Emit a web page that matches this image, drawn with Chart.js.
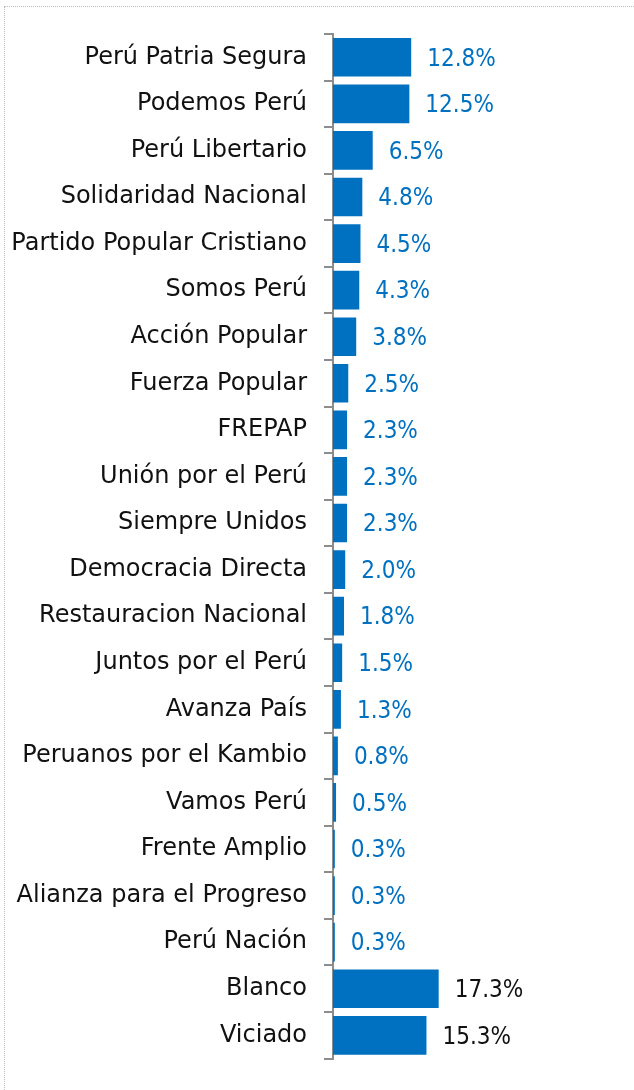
<!DOCTYPE html>
<html>
<head>
<meta charset="utf-8">
<script src="https://cdn.jsdelivr.net/npm/chart.js@4.4.1/dist/chart.umd.min.js"></script>
<style>
    html, body { margin: 0; padding: 0; background: #fff; }
    #wrap { position: relative; width: 634px; height: 1090px; overflow: hidden; }
    #frame { position: absolute; left: 4px; top: 6px; width: 700px; height: 1200px; border: 1px dotted #bbb; }
    #chart-box { position: absolute; left: 0; top: 0; width: 634px; height: 1090px; }
</style>
</head>
<body>
<div id="wrap">
    <div id="frame"></div>
    <div id="chart-box"><canvas id="bar-chart"></canvas></div>
</div>
<script>
var aParties = [
    "Perú Patria Segura", "Podemos Perú", "Perú Libertario", "Solidaridad Nacional",
    "Partido Popular Cristiano", "Somos Perú", "Acción Popular", "Fuerza Popular",
    "FREPAP", "Unión por el Perú", "Siempre Unidos", "Democracia Directa",
    "Restauracion Nacional", "Juntos por el Perú", "Avanza País", "Peruanos por el Kambio",
    "Vamos Perú", "Frente Amplio", "Alianza para el Progreso", "Perú Nación",
    "Blanco", "Viciado"
];
var aVotes = [12.8, 12.5, 6.5, 4.8, 4.5, 4.3, 3.8, 2.5, 2.3, 2.3, 2.3, 2.0, 1.8, 1.5, 1.3, 0.8, 0.5, 0.3, 0.3, 0.3, 17.3, 15.3];
var aLabelColors = aParties.map(function(name) {
    return (name === "Blanco" || name === "Viciado") ? "#111111" : "#0070C0";
});

var sFont = '"DejaVu Sans", sans-serif';
var sValueFont = '"DejaVu Sans Condensed", "DejaVu Sans", sans-serif';

// draws the "12.8%" labels next to each bar
var valueLabels = {
    id: 'valueLabels',
    afterDatasetsDraw: function(chart) {
        var ctx = chart.ctx;
        var meta = chart.getDatasetMeta(0);
        ctx.save();
        ctx.font = '24px ' + sValueFont;
        ctx.textAlign = 'left';
        ctx.textBaseline = 'middle';
        meta.data.forEach(function(bar, i) {
            ctx.fillStyle = aLabelColors[i];
            ctx.fillText(aVotes[i].toFixed(1) + '%', bar.x + 16, bar.y + 2);
        });
        ctx.restore();
    }
};

new Chart(document.getElementById("bar-chart"), {
    type: 'bar',
    data: {
        labels: aParties,
        datasets: [{
            data: aVotes,
            backgroundColor: "#0070C0",
            categoryPercentage: 1,
            barPercentage: 0.83
        }]
    },
    options: {
        indexAxis: 'y',
        responsive: true,
        maintainAspectRatio: false,
        animation: false,
        layout: { padding: { top: 34, bottom: 16, left: 0, right: 20 } },
        plugins: {
            legend: { display: false },
            tooltip: { enabled: false }
        },
        scales: {
            x: {
                display: false,
                min: 0,
                max: 46
            },
            y: {
                afterFit: function(scale) { scale.width = 333; },
                border: { display: true, color: '#8c8c8c', width: 2 },
                grid: { drawOnChartArea: false, drawTicks: true, tickLength: 9, color: '#8c8c8c', lineWidth: 2 },
                ticks: {
                    padding: 17,
                    color: '#111111',
                    autoSkip: false,
                    font: { family: sFont, size: 24 }
                }
            }
        }
    },
    plugins: [valueLabels]
});
</script>
</body>
</html>
